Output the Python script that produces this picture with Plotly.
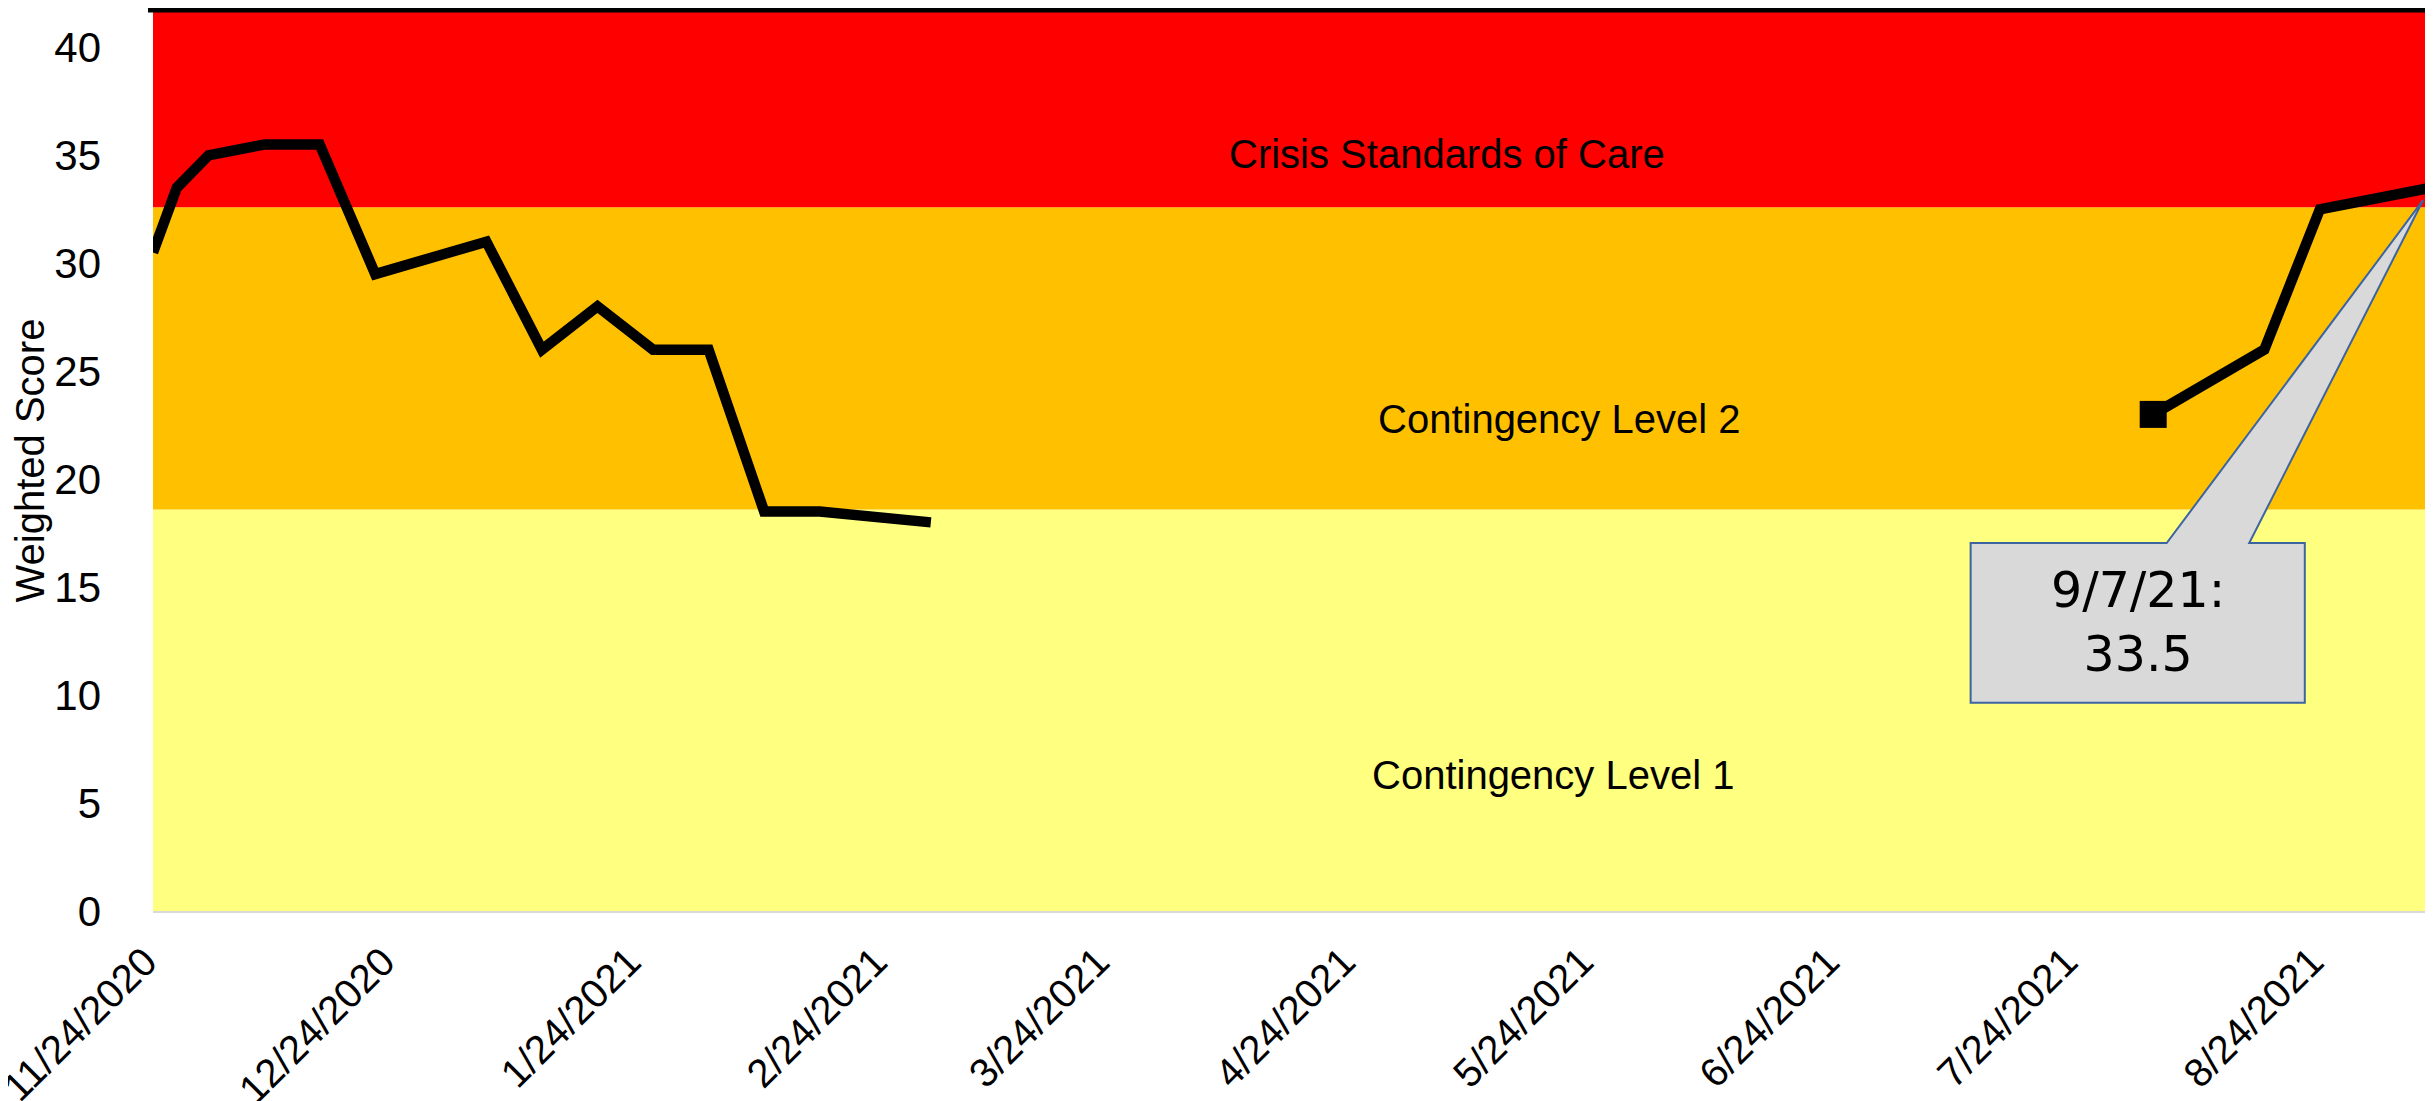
import pandas as pd
import plotly.graph_objects as go

# weighted score readings (two reporting periods, gap in between)
dates_winter = ['2020-11-24', '2020-11-27', '2020-12-01', '2020-12-08', '2020-12-15',
                '2020-12-22', '2021-01-05', '2021-01-12', '2021-01-19', '2021-01-26',
                '2021-02-02', '2021-02-09', '2021-02-16', '2021-03-02']
scores_winter = [30.5, 33.5, 35, 35.5, 35.5, 29.5, 31, 26, 28, 26, 26, 18.5, 18.5, 18]

dates_summer = ['2021-08-03', '2021-08-17', '2021-08-24', '2021-09-07']
scores_summer = [23, 26, 32.5, 33.5]

# background levels
band_names = ['Contingency Level 1', 'Contingency Level 2', 'Crisis Standards of Care']
band_edges = [0, 18.6, 32.6, 41.73]
band_colors = ['#FFFF80', '#FFC000', '#FF0000']

x_range = ['2020-11-24', '2021-09-07']
tick_dates = pd.date_range('2020-11-24', '2021-08-24', freq=pd.DateOffset(months=1))
tick_text = [f'{d.month}/{d.day}/{d.year}' for d in tick_dates]

FONT = 'Liberation Sans, Arial, sans-serif'

fig = go.Figure()

fig.add_trace(go.Scatter(x=dates_winter + [None] + dates_summer,
                         y=scores_winter + [None] + scores_summer,
                         mode='lines', connectgaps=False,
                         line=dict(color='black', width=10.5)))
fig.add_trace(go.Scatter(x=dates_summer[:1], y=scores_summer[:1], mode='markers',
                         marker=dict(symbol='square', size=27, color='black')))

# coloured bands
for lo, hi, col in zip(band_edges[:-1], band_edges[1:], band_colors):
    fig.add_shape(type='rect', xref='paper', yref='y', x0=0, x1=0.998, y0=lo, y1=hi,
                  fillcolor=col, line_width=0, layer='below')

band_label_pos = [(0.6146, 6.28), (0.617, 22.8), (0.568, 35.06)]
for name, (px_, py_) in zip(band_names, band_label_pos):
    fig.add_annotation(text=name, xref='paper', yref='y', x=px_, y=py_, showarrow=False,
                       font=dict(family=FONT, size=40, color='black'))

# callout for the latest value
start = pd.Timestamp(x_range[0])


def day(n):
    return (start + pd.Timedelta(days=n)).strftime('%Y-%m-%d_%H:%M:%S')


last_d = pd.Timestamp(dates_summer[-1])
last_v = scores_summer[-1]
tip_day = (last_d - start).days - 1.0
tip_v = last_v - 0.58
bx0, bx1, by0, by1 = 229.0, 271.1, 9.65, 17.04
w0, w1 = 253.7, 264.1
path = (f'M{day(bx0)},{by1} L{day(w0)},{by1} L{day(tip_day)},{tip_v} '
        f'L{day(w1)},{by1} L{day(bx1)},{by1} L{day(bx1)},{by0} L{day(bx0)},{by0} Z')
fig.add_shape(type='path', xref='x', yref='y', path=path, fillcolor='#D9D9D9',
              line=dict(color='#3C64A0', width=2), layer='above')
fig.add_annotation(text=f"{last_d.month}/{last_d.day}/{last_d.strftime('%y')}:<br>{last_v}",
                   xref='x', yref='y', x=day((bx0 + bx1) / 2).replace('_', ' '),
                   y=(by0 + by1) / 2, showarrow=False,
                   font=dict(family='DejaVu Sans, sans-serif', size=49, color='black'))

# black rule along the top of the plot
fig.add_shape(type='line', xref='paper', yref='paper', x0=-0.0022, x1=1.001, y0=1, y1=1,
              line=dict(color='black', width=5), layer='above')
# grey strip at the right edge
fig.add_shape(type='rect', xref='paper', yref='paper', x0=0.9991, x1=1.002, y0=0.8724, y1=0.997,
              fillcolor='#D9D9D9', line_width=0)

# the page adds an 8px body margin, so the figure is 8px smaller and shifted
fig.update_layout(
    width=2425, height=1093,
    margin=dict(l=145, r=2, t=2, b=190, autoexpand=False),
    plot_bgcolor='white', paper_bgcolor='white',
    showlegend=False,
    font=dict(family=FONT, color='black'),
)
fig.update_xaxes(type='date', range=x_range, tickvals=list(tick_dates), ticktext=tick_text,
                 tickangle=-45, tickfont=dict(size=40), showgrid=False, zeroline=False,
                 showline=True, linecolor='#D9D9D9', linewidth=2, ticks='',
                 ticklabeloverflow='allow', ticklabelshift=-8, ticklabelstandoff=9,
                 automargin=False)
fig.update_yaxes(range=[0, 41.73], tick0=0, dtick=5, tickfont=dict(size=42), showgrid=False,
                 zeroline=False, showline=False, ticks='', ticklabelstandoff=51,
                 automargin=False,
                 title=dict(text='Weighted Score', font=dict(size=40), standoff=2))

fig.write_html('out.html')
